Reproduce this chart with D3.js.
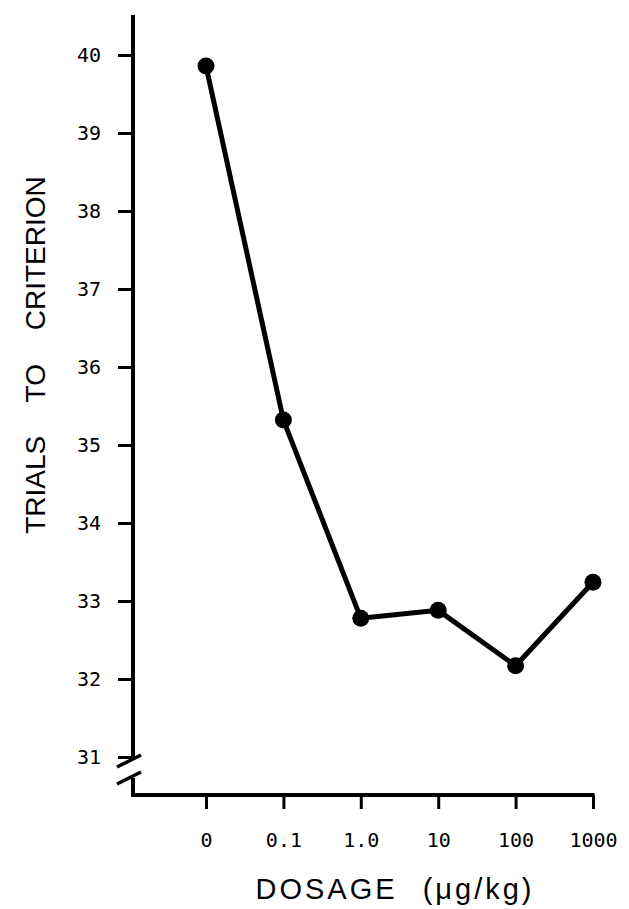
<!DOCTYPE html>
<html>
<head>
<meta charset="utf-8">
<script src="https://cdn.jsdelivr.net/npm/d3@7"></script>
<style>
  body { margin: 0; background: #fff; }
  .tick text { font-family: "DejaVu Sans Mono", monospace; font-size: 20px; fill: #000; }
  .label { font-family: "Liberation Sans", Arial, sans-serif; fill: #000; }
</style>
</head>
<body>
<div id="chart"></div>
<script>
var dosages = ['0', '0.1', '1.0', '10', '100', '1000']
var trials = [39.86, 35.32, 32.78, 32.88, 32.17, 33.24]
var yTicks = [31, 32, 33, 34, 35, 36, 37, 38, 39, 40]

var w = 629, h = 909
var axisX = 133, axisY = 795

var svg = d3.select('#chart').append('svg')
    .attr('width', w)
    .attr('height', h)

var x = d3.scalePoint().domain(dosages).range([206, 593])
var y = d3.scaleLinear().domain([31, 40]).range([757, 55])

// y axis ticks + labels
var yAxis = svg.append('g')
    .attr('transform', 'translate(' + axisX + ',0)')
    .call(d3.axisLeft(y).tickValues(yTicks).tickSize(15).tickPadding(17).tickFormat(d3.format('d')))
yAxis.select('.domain').remove()
yAxis.selectAll('.tick line').attr('stroke', '#000').attr('stroke-width', 3)

// y axis line with break
svg.append('path')
    .attr('d', 'M' + axisX + ',15V' + y(31))
    .attr('stroke', '#000').attr('stroke-width', 4).attr('fill', 'none')
svg.append('path')
    .attr('d', 'M' + axisX + ',778V' + axisY)
    .attr('stroke', '#000').attr('stroke-width', 4).attr('fill', 'none')
svg.append('path')
    .attr('d', 'M117,767L141,755M117,784L141,772')
    .attr('stroke', '#000').attr('stroke-width', 3.5).attr('fill', 'none')

// x axis
var xAxis = svg.append('g')
    .attr('transform', 'translate(0,' + axisY + ')')
    .call(d3.axisBottom(x).tickSize(14).tickPadding(24))
xAxis.select('.domain').remove()
xAxis.selectAll('.tick line').attr('stroke', '#000').attr('stroke-width', 3)
svg.append('path')
    .attr('d', 'M' + (axisX - 2) + ',' + axisY + 'H' + (x('1000') + 1.5))
    .attr('stroke', '#000').attr('stroke-width', 4).attr('fill', 'none')

// line
var line = d3.line()
    .x((d, i) => x(dosages[i]))
    .y(d => y(d))

svg.append('path')
    .datum(trials)
    .attr('d', line)
    .attr('fill', 'none')
    .attr('stroke', '#000')
    .attr('stroke-width', 5)
    .attr('stroke-linejoin', 'round')

svg.selectAll('circle')
    .data(trials)
    .enter()
    .append('circle')
    .attr('cx', (d, i) => x(dosages[i]))
    .attr('cy', d => y(d))
    .attr('r', 8.5)
    .attr('fill', '#000')

// axis titles
svg.append('text')
    .attr('class', 'label')
    .attr('x', 395)
    .attr('y', 899)
    .attr('text-anchor', 'middle')
    .style('font-size', '29px')
    .style('letter-spacing', '3px')
    .style('word-spacing', '14px')
    .text('DOSAGE (\u03bcg/kg)')

svg.append('text')
    .attr('class', 'label')
    .attr('transform', 'translate(45,355) rotate(-90)')
    .attr('text-anchor', 'middle')
    .style('font-size', '28px')
    .style('word-spacing', '26px')
    .text('TRIALS TO CRITERION')
</script>
</body>
</html>
